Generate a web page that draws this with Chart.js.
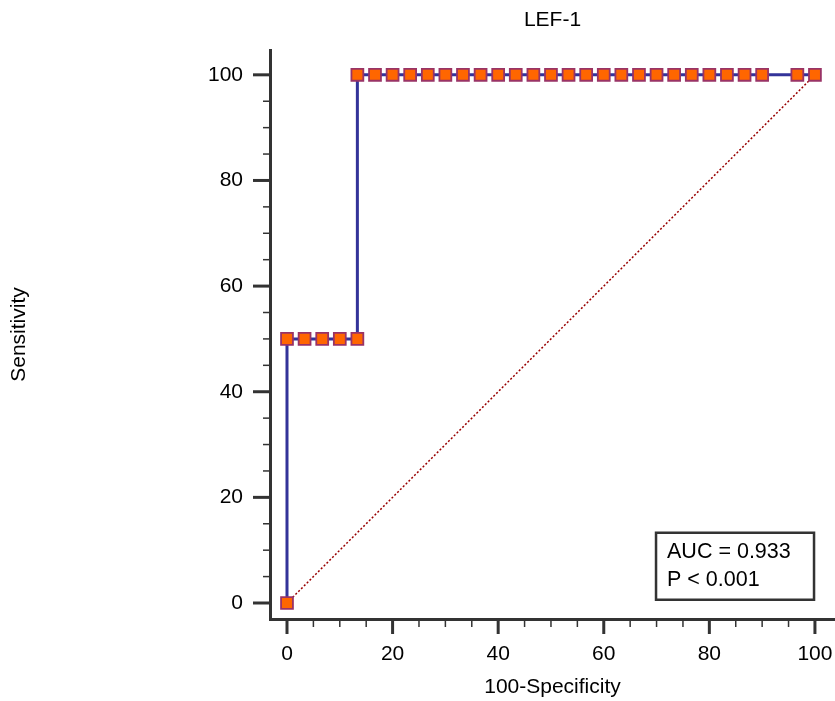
<!DOCTYPE html>
<html>
<head>
<meta charset="utf-8">
<script src="https://cdn.jsdelivr.net/npm/chart.js@4"></script>
<style>
  html, body { margin: 0; padding: 0; background: #fff; }
  #wrap { width: 835px; height: 701px; }
</style>
</head>
<body>
<div id="wrap"><canvas id="c" width="835" height="701"></canvas></div>
<script>
const chartTitle = 'LEF-1';
const xTitle = '100-Specificity';
const yTitle = 'Sensitivity';
const rocX = [0, 0, 3.33, 6.67, 10, 13.33, 13.33, 16.67, 20, 23.33, 26.67, 30, 33.33, 36.67, 40, 43.33, 46.67, 50, 53.33, 56.67, 60, 63.33, 66.67, 70, 73.33, 76.67, 80, 83.33, 86.67, 90, 96.67, 100];
const rocY = [0, 50, 50, 50, 50, 50, 100, 100, 100, 100, 100, 100, 100, 100, 100, 100, 100, 100, 100, 100, 100, 100, 100, 100, 100, 100, 100, 100, 100, 100, 100, 100];
const refX = [0, 100];
const refY = [0, 100];
const majorTicks = [0, 20, 40, 60, 80, 100];
const minorTicks = [5, 10, 15, 25, 30, 35, 45, 50, 55, 65, 70, 75, 85, 90, 95];
const statLines = ['AUC = 0.933', 'P < 0.001'];

const FONT = 'Liberation Sans, Arial, sans-serif';
const AXIS = '#333333';

const tickPlugin = {
  id: 'ticksAndBox',
  afterDraw(chart) {
    const ctx = chart.ctx;
    const xs = chart.scales.x, ys = chart.scales.y;
    const ca = chart.chartArea;
    ctx.save();
    ctx.strokeStyle = AXIS;
    majorTicks.forEach(v => {
      const px = xs.getPixelForValue(v);
      ctx.lineWidth = 3;
      ctx.beginPath(); ctx.moveTo(px, ca.bottom); ctx.lineTo(px, ca.bottom + 15); ctx.stroke();
    });
    minorTicks.forEach(v => {
      const px = xs.getPixelForValue(v);
      ctx.lineWidth = 1.5;
      ctx.beginPath(); ctx.moveTo(px, ca.bottom); ctx.lineTo(px, ca.bottom + 8); ctx.stroke();
    });
    majorTicks.forEach(v => {
      const py = ys.getPixelForValue(v);
      ctx.lineWidth = 3;
      ctx.beginPath(); ctx.moveTo(ca.left, py); ctx.lineTo(ca.left - 17, py); ctx.stroke();
    });
    minorTicks.forEach(v => {
      const py = ys.getPixelForValue(v);
      ctx.lineWidth = 1.5;
      ctx.beginPath(); ctx.moveTo(ca.left, py); ctx.lineTo(ca.left - 7, py); ctx.stroke();
    });
    // stats box
    const bx = xs.getPixelForValue(69.9), by = ys.getPixelForValue(13.3);
    const bw = 158, bh = 67;
    ctx.lineWidth = 2.5;
    ctx.strokeStyle = '#333333';
    ctx.fillStyle = '#ffffff';
    ctx.fillRect(bx, by, bw, bh);
    ctx.strokeRect(bx, by, bw, bh);
    ctx.fillStyle = '#000000';
    ctx.font = '21.5px ' + FONT;
    ctx.textBaseline = 'middle';
    ctx.textAlign = 'left';
    statLines.forEach((t, i) => ctx.fillText(t, bx + 11, by + 19 + i * 28));
    ctx.restore();
  }
};

const setTicks = scale => { scale.ticks = majorTicks.map(v => ({ value: v })); };

new Chart(document.getElementById('c'), {
  type: 'scatter',
  data: {
    datasets: [
      {
        data: rocX.map((x, i) => ({ x, y: rocY[i] })),
        showLine: true,
        borderColor: '#333399',
        borderWidth: 3,
        pointStyle: 'rect',
        pointRadius: 8.4,
        pointBackgroundColor: '#ff6600',
        pointBorderColor: '#993366',
        pointBorderWidth: 1.8,
        clip: false,
        order: 1
      },
      {
        data: refX.map((x, i) => ({ x, y: refY[i] })),
        showLine: true,
        borderColor: '#990000',
        borderWidth: 1.5,
        borderDash: [2, 2],
        pointRadius: 0,
        order: 2
      }
    ]
  },
  options: {
    responsive: false,
    animation: false,
    events: [],
    layout: { padding: 0, autoPadding: false },
    plugins: {
      legend: { display: false },
      tooltip: { enabled: false },
      title: {
        display: true,
        text: chartTitle,
        fullSize: false,
        color: '#000',
        font: { family: FONT, size: 21, weight: 'normal' },
        padding: { top: 8, bottom: 16.8 }
      }
    },
    scales: {
      x: {
        type: 'linear',
        min: -3.22,
        max: 103.8,
        afterBuildTicks: setTicks,
        afterFit: s => { s.height = 82; s.paddingLeft = 0; s.paddingRight = 0; },
        grid: { display: false, drawTicks: false },
        border: { display: true, color: AXIS, width: 3 },
        ticks: { color: '#000', font: { family: FONT, size: 21 }, padding: 23, maxRotation: 0 },
        title: { display: true, text: xTitle, color: '#000', font: { family: FONT, size: 21 }, padding: { top: 0, bottom: 1 } }
      },
      y: {
        type: 'linear',
        min: -3.03,
        max: 104.7,
        afterBuildTicks: setTicks,
        afterFit: s => { s.width = 270; s.paddingTop = 0; s.paddingBottom = 0; },
        grid: { display: false, drawTicks: false },
        border: { display: true, color: AXIS, width: 3 },
        ticks: { color: '#000', font: { family: FONT, size: 21 }, padding: 27 },
        title: { display: true, text: yTitle, color: '#000', font: { family: FONT, size: 21 }, padding: { top: 7, bottom: 0 } }
      }
    }
  },
  plugins: [tickPlugin]
});
</script>
</body>
</html>
